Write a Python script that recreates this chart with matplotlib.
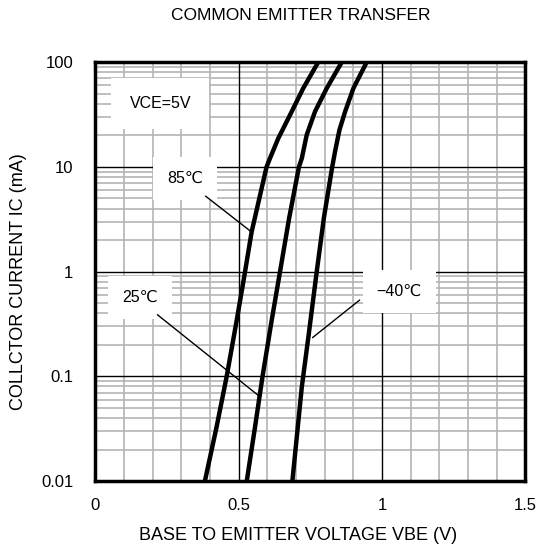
import matplotlib.pyplot as plt
import numpy as np
from matplotlib.ticker import FixedLocator, NullFormatter

plt.rcParams['font.family'] = ['Liberation Sans', 'DejaVu Sans']

# curves: VBE (V) vs IC (mA)
vbe_85 = [0.382, 0.423, 0.458, 0.493, 0.518, 0.545, 0.571, 0.597, 0.609, 0.638, 0.679, 0.725, 0.777]
ic_85 = [0.01, 0.0331, 0.1, 0.344, 0.86, 2.40, 4.9, 10.0, 12.1, 18.8, 31.4, 56.5, 100.0]
vbe_25 = [0.528, 0.557, 0.583, 0.615, 0.644, 0.676, 0.710, 0.720, 0.737, 0.766, 0.807, 0.859]
ic_25 = [0.01, 0.0331, 0.1, 0.344, 1.0, 3.27, 10.0, 12.1, 20.2, 33.8, 56.5, 100.0]
vbe_m40 = [0.687, 0.720, 0.743, 0.772, 0.797, 0.826, 0.836, 0.851, 0.871, 0.900, 0.946]
ic_m40 = [0.01, 0.0794, 0.239, 1.0, 3.27, 10.0, 14.1, 22.4, 33.8, 56.5, 100.0]

xticks = [0, 0.5, 1.0, 1.5]
xtick_labels = ['0', '0.5', '1', '1.5']
yticks = [0.01, 0.1, 1, 10, 100]
ytick_labels = ['0.01', '0.1', '1', '10', '100']

fig = plt.figure(figsize=(5.41, 5.46), dpi=100)
ax = fig.add_axes([0.1763, 0.119, 0.795, 0.767])
ax.set_yscale('log')
ax.set_xlim(0, 1.5)
ax.set_ylim(0.01, 100)

# grid
for x in np.arange(0.1, 1.5, 0.1):
    if abs(x - 0.5) < 1e-6 or abs(x - 1.0) < 1e-6:
        ax.axvline(x, color='black', lw=1.0, zorder=1)
    else:
        ax.axvline(x, color='#b4b4b4', lw=1.2, zorder=0)
for dec in [0.01, 0.1, 1, 10]:
    for m in range(2, 10):
        ax.axhline(dec * m, color='#b4b4b4', lw=1.2, zorder=0)
    if dec > 0.01:
        ax.axhline(dec, color='black', lw=1.0, zorder=1)

ax.plot(vbe_85, ic_85, color='black', lw=3.2, zorder=5, solid_joinstyle='round')
ax.plot(vbe_25, ic_25, color='black', lw=3.2, zorder=5, solid_joinstyle='round')
ax.plot(vbe_m40, ic_m40, color='black', lw=3.2, zorder=5, solid_joinstyle='round')

box = dict(facecolor='white', edgecolor='none', pad=10)
ax.text(0.226, 40.7, 'VCE=5V', ha='center', va='center', fontsize=11.5, bbox=dict(facecolor='white', edgecolor='none', pad=13), zorder=3)
ax.text(0.313, 7.74, '85℃', ha='center', va='center', fontsize=11.5, bbox=box, zorder=3)
ax.text(0.156, 0.565, '25℃', ha='center', va='center', fontsize=11.5, bbox=box, zorder=3)
ax.text(1.06, 0.645, '−40℃', ha='center', va='center', fontsize=11.5, bbox=box, zorder=3)

# leader lines
ax.plot([0.385, 0.545], [10 ** 0.72, 10 ** 0.378], color='black', lw=1.0, zorder=4)
ax.plot([0.217, 0.569], [10 ** -0.413, 10 ** -1.184], color='black', lw=1.0, zorder=4)
ax.plot([0.921, 0.758], [10 ** -0.273, 10 ** -0.629], color='black', lw=1.0, zorder=4)

ax.xaxis.set_major_locator(FixedLocator(xticks))
ax.set_xticklabels(xtick_labels)
ax.yaxis.set_major_locator(FixedLocator(yticks))
ax.set_yticklabels(ytick_labels)
ax.yaxis.set_minor_formatter(NullFormatter())
ax.tick_params(which='both', length=0, labelsize=12, pad=12)
ax.tick_params(axis='y', pad=16)

for s in ax.spines.values():
    s.set_linewidth(2.5)
    s.set_zorder(6)

ax.set_xlabel('BASE TO EMITTER VOLTAGE VBE (V)', fontsize=13)
ax.set_ylabel('COLLCTOR CURRENT IC (mA)', fontsize=13)
ax.xaxis.set_label_coords(0.471, -0.110)
ax.yaxis.set_label_coords(-0.159, 0.475)
fig.text(301 / 541, 1 - 15 / 546, 'COMMON EMITTER TRANSFER', ha='center', va='center', fontsize=12.5)

fig.savefig('out.png', dpi=100)
